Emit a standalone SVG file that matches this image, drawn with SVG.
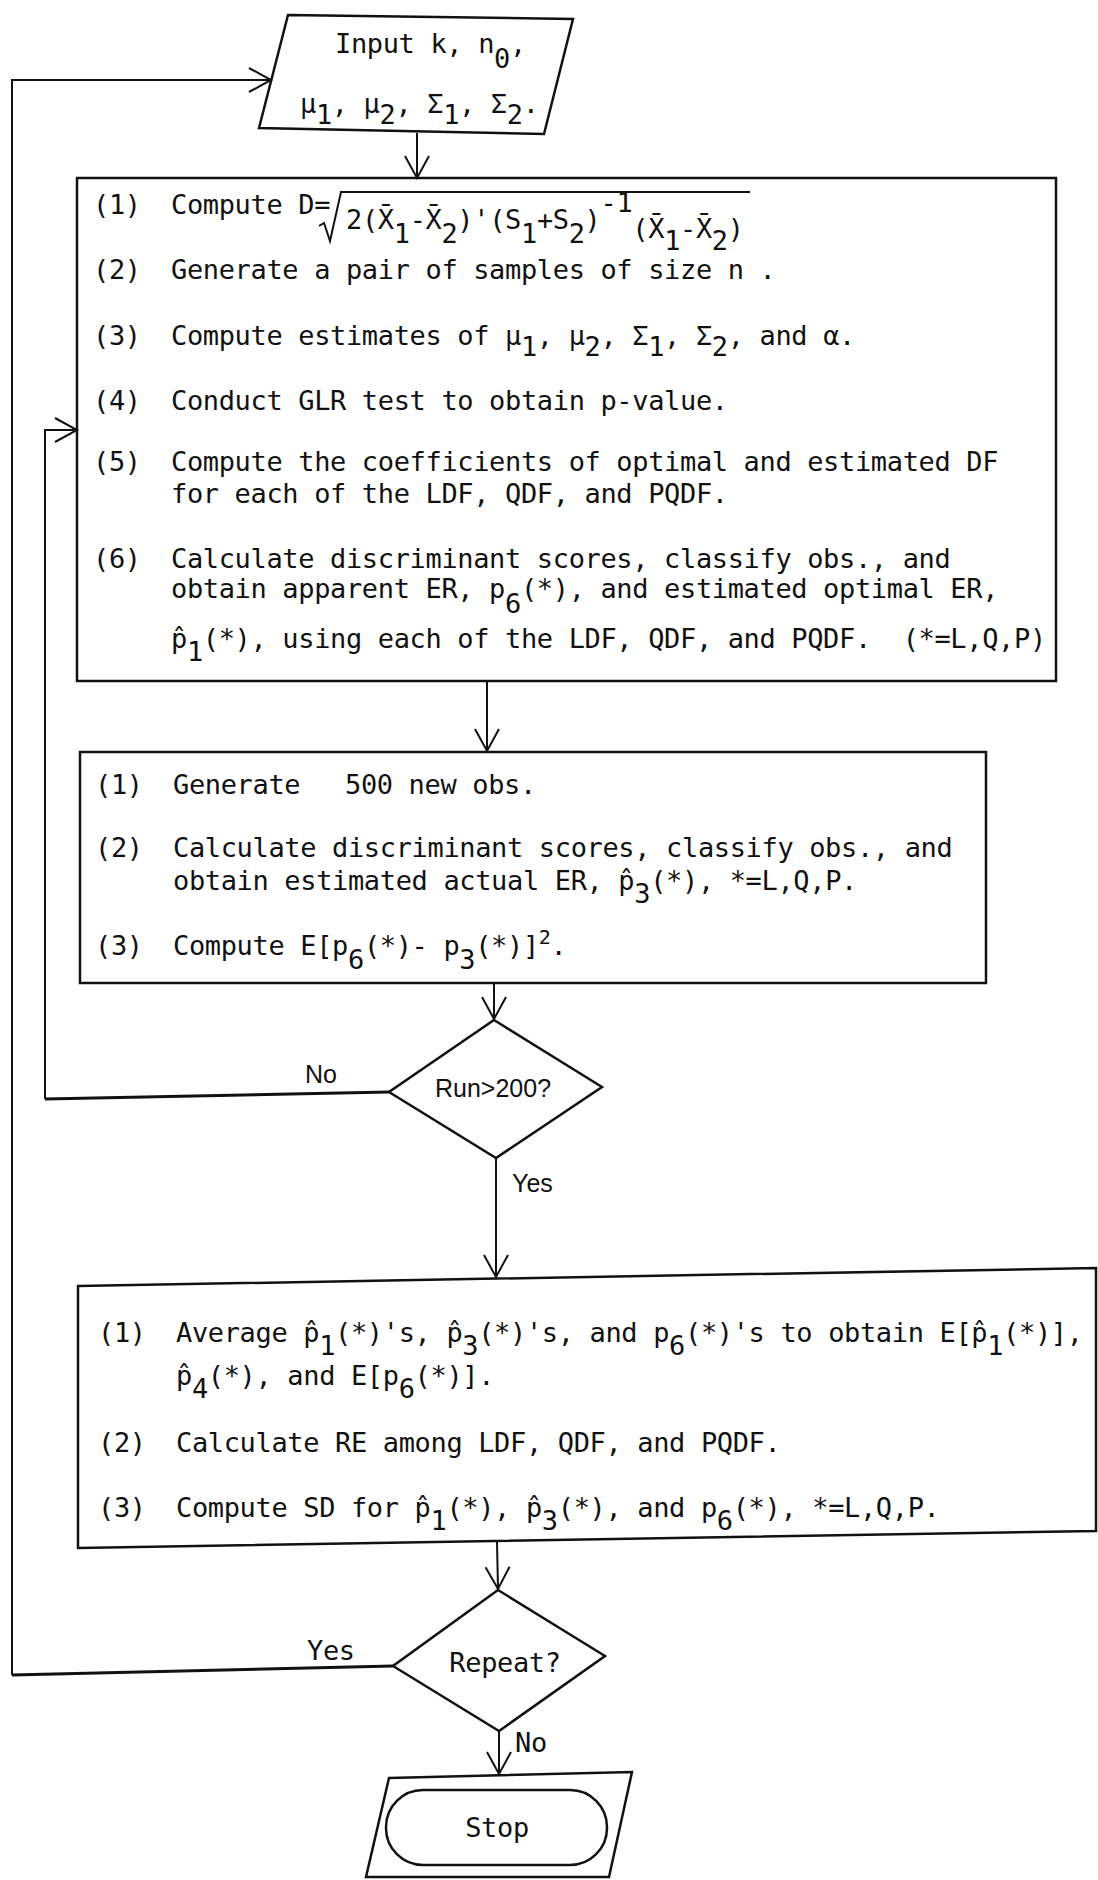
<svg xmlns="http://www.w3.org/2000/svg" width="1098" height="1880" viewBox="0 0 1098 1880">
<defs>
<style>
.bg{fill:#fff}
.shape{fill:none;stroke:#111;stroke-width:2.5;stroke-linejoin:miter}
.thin{fill:none;stroke:#111;stroke-width:2}
.conn{fill:none;stroke:#111;stroke-width:2}
.ret{fill:none;stroke:#111;stroke-width:3}
.t{font-family:"DejaVu Sans Mono","Liberation Mono",monospace;font-size:27px;letter-spacing:-0.35px;fill:#111}
.s{font-family:"Liberation Sans",Arial,sans-serif;font-size:25px;fill:#111}
</style>
<marker id="arr" viewBox="-25 -15 28 30" refX="0" refY="0" markerWidth="28" markerHeight="30" markerUnits="userSpaceOnUse" orient="auto">
<path d="M-22,-12 L0,0 L-22,12" fill="none" stroke="#111" stroke-width="2"/>
</marker>
</defs>
<rect class="bg" x="0" y="0" width="1098" height="1880"/>

<g id="connectors">
<path class="conn" d="M417,133 L417,178" marker-end="url(#arr)"/>
<path class="conn" d="M487,681 L487,751" marker-end="url(#arr)"/>
<path class="conn" d="M494,984 L494,1019" marker-end="url(#arr)"/>
<path class="conn" d="M496,1158 L496,1277" marker-end="url(#arr)"/>
<path class="conn" d="M497,1542 L498,1589" marker-end="url(#arr)"/>
<path class="conn" d="M499,1731 L499,1774" marker-end="url(#arr)"/>
<path class="ret" d="M389,1092 L45,1099"/>
<path class="conn" d="M45,1099 L45,430 L77,430" marker-end="url(#arr)"/>
<path class="ret" d="M393,1666 L12,1675"/>
<path class="conn" d="M12,1675 L12,80 L271,80" marker-end="url(#arr)"/>
<text class="s" x="305" y="1083">No</text>
<text class="s" x="512" y="1192">Yes</text>
<text class="t" x="307" y="1660">Yes</text>
<text class="t" x="515" y="1752">No</text>
</g>

<g id="node-input">
<polygon class="shape" points="288,15 573,19 544,134 259,128"/>
<text class="t" x="335" y="53">Input k, n<tspan dy="15">0</tspan><tspan dy="-15">,</tspan></text>
<text class="t" x="300" y="113">μ<tspan dy="11">1</tspan><tspan dy="-11">, μ</tspan><tspan dy="11">2</tspan><tspan dy="-11">, Σ</tspan><tspan dy="11">1</tspan><tspan dy="-11">, Σ</tspan><tspan dy="11">2</tspan><tspan dy="-11">.</tspan></text>
</g>

<g id="node-box1">
<rect class="shape" x="77" y="178" width="979" height="503"/>
<text class="t" x="93" y="214">(1)</text>
<text class="t" x="171" y="214">Compute D=</text>
<path class="thin" d="M319,226 L324,223 L330,241 L341,192 L750,192"/>
<text class="t" x="346" y="229">2(X&#x304;<tspan dy="14">1</tspan><tspan dy="-14">-X&#x304;</tspan><tspan dy="14">2</tspan><tspan dy="-14">)'(S</tspan><tspan dy="14">1</tspan><tspan dy="-14">+S</tspan><tspan dy="14">2</tspan><tspan dy="-14">)</tspan><tspan dy="-17">-1</tspan><tspan dy="26">(X&#x304;</tspan><tspan dy="12">1</tspan><tspan dy="-12">-X&#x304;</tspan><tspan dy="12">2</tspan><tspan dy="-12">)</tspan></text>
<text class="t" x="93" y="279">(2)</text>
<text class="t" x="171" y="279">Generate a pair of samples of size n .</text>
<text class="t" x="93" y="345">(3)</text>
<text class="t" x="171" y="345">Compute estimates of μ<tspan dy="11">1</tspan><tspan dy="-11">, μ</tspan><tspan dy="11">2</tspan><tspan dy="-11">, Σ</tspan><tspan dy="11">1</tspan><tspan dy="-11">, Σ</tspan><tspan dy="11">2</tspan><tspan dy="-11">, and α.</tspan></text>
<text class="t" x="93" y="410">(4)</text>
<text class="t" x="171" y="410">Conduct GLR test to obtain p-value.</text>
<text class="t" x="93" y="471">(5)</text>
<text class="t" x="171" y="471">Compute the coefficients of optimal and estimated DF</text>
<text class="t" x="171" y="503">for each of the LDF, QDF, and PQDF.</text>
<text class="t" x="93" y="568">(6)</text>
<text class="t" x="171" y="568">Calculate discriminant scores, classify obs., and</text>
<text class="t" x="171" y="598">obtain apparent ER, p<tspan dy="15">6</tspan><tspan dy="-15">(*), and estimated optimal ER,</tspan></text>
<text class="t" x="171" y="648" xml:space="preserve">p&#x302;<tspan dy="13">1</tspan><tspan dy="-13">(*), using each of the LDF, QDF, and PQDF.  (*=L,Q,P)</tspan></text>
</g>

<g id="node-box2">
<rect class="shape" x="80" y="752" width="906" height="231"/>
<text class="t" x="95" y="794">(1)</text>
<text class="t" x="173" y="794">Generate</text>
<text class="t" x="345" y="794">500 new obs.</text>
<text class="t" x="95" y="857">(2)</text>
<text class="t" x="173" y="857">Calculate discriminant scores, classify obs., and</text>
<text class="t" x="173" y="890">obtain estimated actual ER, p&#x302;<tspan dy="13">3</tspan><tspan dy="-13">(*), *=L,Q,P.</tspan></text>
<text class="t" x="95" y="955">(3)</text>
<text class="t" x="173" y="955">Compute E[p<tspan dy="14">6</tspan><tspan dy="-14">(*)- p</tspan><tspan dy="14">3</tspan><tspan dy="-14">(*)]</tspan><tspan dy="-11" style="font-size:20px">2</tspan><tspan dy="11">.</tspan></text>
</g>

<g id="node-dec1">
<polygon class="shape" points="494,1020 602,1087 496,1158 389,1092"/>
<text class="s" x="493" y="1097" text-anchor="middle">Run&gt;200?</text>
</g>

<g id="node-box3">
<polygon class="shape" points="78,1286 1096,1268 1096,1531 78,1548"/>
<text class="t" x="98" y="1342">(1)</text>
<text class="t" x="176" y="1342">Average p&#x302;<tspan dy="13">1</tspan><tspan dy="-13">(*)'s, p&#x302;</tspan><tspan dy="13">3</tspan><tspan dy="-13">(*)'s, and p</tspan><tspan dy="13">6</tspan><tspan dy="-13">(*)'s to obtain E[p&#x302;</tspan><tspan dy="13">1</tspan><tspan dy="-13">(*)],</tspan></text>
<text class="t" x="176" y="1385">p&#x302;<tspan dy="13">4</tspan><tspan dy="-13">(*), and E[p</tspan><tspan dy="13">6</tspan><tspan dy="-13">(*)].</tspan></text>
<text class="t" x="98" y="1452">(2)</text>
<text class="t" x="176" y="1452">Calculate RE among LDF, QDF, and PQDF.</text>
<text class="t" x="98" y="1517">(3)</text>
<text class="t" x="176" y="1517">Compute SD for p&#x302;<tspan dy="13">1</tspan><tspan dy="-13">(*), p&#x302;</tspan><tspan dy="13">3</tspan><tspan dy="-13">(*), and p</tspan><tspan dy="13">6</tspan><tspan dy="-13">(*), *=L,Q,P.</tspan></text>
</g>

<g id="node-dec2">
<polygon class="shape" points="498,1590 605,1656 499,1731 393,1666"/>
<text class="t" x="505" y="1672" text-anchor="middle">Repeat?</text>
</g>

<g id="node-stop">
<polygon class="shape" points="389,1778 632,1772 609,1877 366,1877"/>
<rect class="shape" x="386" y="1790" width="221" height="75" rx="37" ry="37"/>
<text class="t" x="497" y="1837" text-anchor="middle">Stop</text>
</g>
</svg>
